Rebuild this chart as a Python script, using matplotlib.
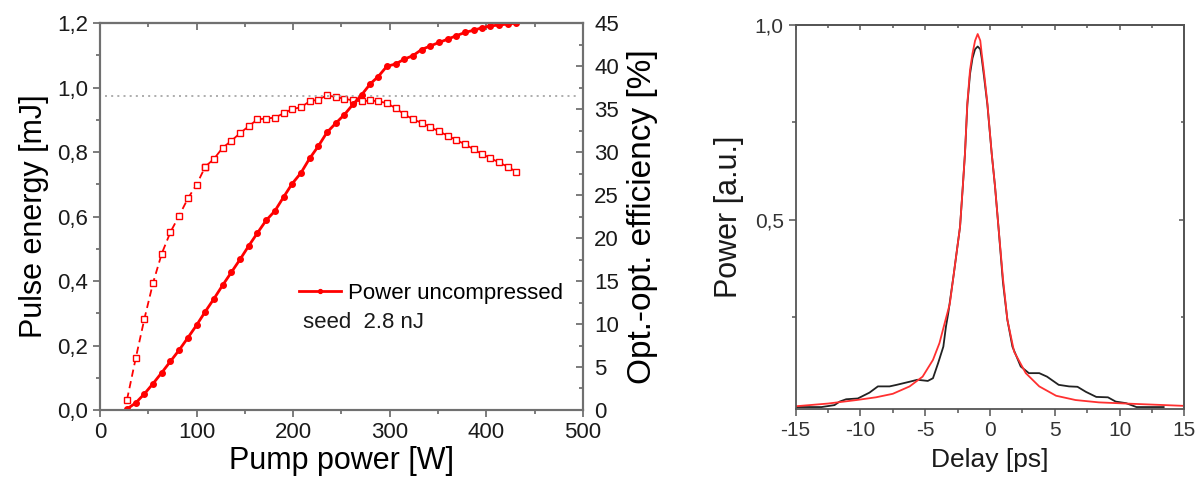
import numpy as np
import matplotlib.pyplot as plt
from matplotlib.ticker import MultipleLocator, FixedLocator

plt.rcParams['font.family'] = ['Liberation Sans', 'DejaVu Sans']
plt.rcParams['axes.unicode_minus'] = False

# left panel: amplifier output vs pump power
pump_w = [28, 37, 46, 55, 64, 73, 82, 91, 100, 109, 118, 127, 136, 145, 154,
          163, 172, 181, 190, 199, 208, 217, 226, 235, 244, 253, 262, 271, 280,
          288, 297, 306, 315, 324, 333, 342, 351, 360, 369, 378, 387, 395, 404,
          413, 422, 431]
energy_mj = [0.003, 0.022, 0.050, 0.082, 0.116, 0.151, 0.186, 0.224, 0.263,
             0.305, 0.345, 0.387, 0.427, 0.467, 0.509, 0.549, 0.588, 0.617,
             0.660, 0.702, 0.735, 0.780, 0.818, 0.861, 0.889, 0.916, 0.948,
             0.978, 1.012, 1.034, 1.066, 1.073, 1.088, 1.099, 1.118, 1.129,
             1.140, 1.150, 1.161, 1.171, 1.178, 1.185, 1.191, 1.194, 1.197, 1.200]
efficiency_pct = [1.2, 6.0, 10.6, 14.8, 18.2, 20.7, 22.6, 24.6, 26.2, 28.3,
                  29.2, 30.5, 31.3, 32.2, 33.0, 33.8, 33.9, 34.0, 34.5, 35.0,
                  35.2, 35.9, 36.1, 36.6, 36.4, 36.2, 36.0, 35.9, 36.0, 35.9,
                  35.7, 35.1, 34.4, 33.8, 33.4, 32.9, 32.4, 31.9, 31.4, 30.9,
                  30.3, 29.8, 29.3, 28.8, 28.3, 27.7]
max_eff = 36.5

# right panel: autocorrelation trace and fit
delay_meas = [-15, -13, -12, -11.6, -11.1, -10.2, -9.3, -8.65, -7.75, -7.2,
              -6.7, -6.2, -5.6, -4.8, -4.4, -4.0, -3.6, -3.4, -3.22, -2.8,
              -2.31, -2.1, -1.93, -1.75, -1.54, -1.35, -1.15, -0.95, -0.75,
              -0.64, -0.45, -0.2, 0.13, 0.39, 0.65, 1.0, 1.34, 1.73, 2.37, 3.0,
              3.8, 4.4, 5.3, 6.1, 6.75, 7.4, 8.2, 9.1, 9.7, 10.5, 11.3, 13.4]
power_meas = [0.020, 0.020, 0.025, 0.034, 0.040, 0.042, 0.057, 0.073, 0.073,
              0.077, 0.081, 0.085, 0.090, 0.087, 0.094, 0.133, 0.175, 0.226,
              0.261, 0.360, 0.483, 0.585, 0.671, 0.795, 0.875, 0.915, 0.938,
              0.945, 0.938, 0.915, 0.865, 0.795, 0.671, 0.585, 0.483, 0.340,
              0.244, 0.175, 0.124, 0.107, 0.107, 0.098, 0.077, 0.073, 0.072,
              0.059, 0.046, 0.045, 0.034, 0.030, 0.020, 0.020]
delay_fit = [-15, -12.5, -10.3, -8.8, -7.5, -6.2, -5.2, -4.4, -3.9, -3.5, -3.1,
             -2.8, -2.31, -2.1, -1.93, -1.75, -1.54, -1.35, -1.15, -0.95, -0.75,
             -0.64, -0.45, -0.2, 0.13, 0.39, 0.65, 1.0, 1.34, 1.86, 2.76, 3.8,
             5.1, 6.6, 8.4, 10.5, 15]
power_fit = [0.022, 0.029, 0.038, 0.045, 0.054, 0.073, 0.098, 0.141, 0.184,
             0.235, 0.285, 0.360, 0.483, 0.585, 0.671, 0.799, 0.885, 0.927,
             0.960, 0.977, 0.960, 0.927, 0.875, 0.799, 0.671, 0.585, 0.483,
             0.350, 0.244, 0.162, 0.107, 0.073, 0.049, 0.038, 0.032, 0.029, 0.023]

fig = plt.figure(figsize=(12, 4.91), dpi=100)
ax = fig.add_axes([0.0833, 0.165, 0.4025, 0.788])
ax2 = ax.twinx()

red = '#ff0000'
n_dash = 10
ax2.plot(pump_w[:n_dash], efficiency_pct[:n_dash], color=red, lw=1.3,
         ls=(0, (4, 2.5)), marker='s', ms=4.5, mfc='white', mec=red, mew=1)
ax2.plot(pump_w[n_dash - 1:], efficiency_pct[n_dash - 1:], color=red, lw=1.3,
         marker='s', ms=4.5, mfc='white', mec=red, mew=1)
ax2.axhline(max_eff, xmin=0.01, xmax=0.99, color='#a0a0a0', lw=1.2,
            ls=(0, (1.2, 2.5)))
ax.plot(pump_w, energy_mj, color=red, lw=2, marker='o', ms=4, mfc=red, mec=red,
        label='Power uncompressed')
ax.set_zorder(ax2.get_zorder() + 1)
ax.patch.set_visible(False)

ax.set_xlim(0, 500)
ax.set_ylim(0, 1.2)
ax2.set_ylim(0, 45)
ax.xaxis.set_major_locator(MultipleLocator(100))
ax.xaxis.set_minor_locator(MultipleLocator(50))
ax.yaxis.set_major_locator(MultipleLocator(0.2))
ax.yaxis.set_minor_locator(MultipleLocator(0.1))
ax.set_yticklabels([f'{v:.1f}'.replace('.', ',') for v in ax.get_yticks()])
ax2.yaxis.set_major_locator(MultipleLocator(5))
ax2.yaxis.set_minor_locator(MultipleLocator(2.5))

ax.tick_params(which='both', direction='out', labelsize=16, colors='#666666',
               labelcolor='#1a1a1a', width=1.2)
ax.tick_params(which='major', length=5)
ax.tick_params(which='minor', length=3)
ax2.tick_params(which='both', direction='in', labelsize=16, colors='#666666',
                labelcolor='#1a1a1a', width=1.2, pad=8)
ax2.tick_params(which='major', length=5)
ax2.tick_params(which='minor', length=3)
top = ax.secondary_xaxis('top')
top.xaxis.set_major_locator(MultipleLocator(100))
top.xaxis.set_minor_locator(MultipleLocator(50))
top.tick_params(which='both', direction='in', labeltop=False, colors='#666666', width=1.2)
top.tick_params(which='major', length=5)
top.tick_params(which='minor', length=3)
for a in (ax, ax2, top):
    for s in a.spines.values():
        s.set_color('#707070')
        s.set_linewidth(1.5)

ax.set_xlabel('Pump power [W]', fontsize=22, labelpad=2)
ax.set_ylabel('Pulse energy [mJ]', fontsize=22, labelpad=6)
ax2.set_ylabel('Opt.-opt. efficiency [%]', fontsize=24, labelpad=6)

ax.legend(loc='center left', bbox_to_anchor=(0.412, 0.302), frameon=False,
          fontsize=16, handlelength=1.9, handletextpad=0.3, borderpad=0,
          borderaxespad=0, markerscale=0.7)
ax.text(0.42, 0.226, 'seed  2.8 nJ', transform=ax.transAxes, fontsize=16,
        va='center', ha='left', color='#1a1a1a')

# right panel
bx = fig.add_axes([0.663, 0.167, 0.324, 0.782])
bx.plot(delay_meas, power_meas, color='#222222', lw=1.3)
bx.plot(delay_fit, power_fit, color='#ff3030', lw=1.3)
bx.set_xlim(-15, 15)
bx.set_ylim(0.015, 1.0)
bx.xaxis.set_major_locator(MultipleLocator(5))
bx.xaxis.set_minor_locator(MultipleLocator(2.5))
bx.yaxis.set_major_locator(FixedLocator([0.5, 1.0]))
bx.yaxis.set_minor_locator(FixedLocator([0.25, 0.75]))
bx.set_yticklabels(['0,5', '1,0'])
bx.tick_params(which='both', direction='out', labelsize=15, colors='#555555',
               labelcolor='#333333', width=1.1)
bx.tick_params(which='major', length=5)
bx.tick_params(which='minor', length=3)
btop = bx.secondary_xaxis('top')
btop.xaxis.set_major_locator(MultipleLocator(5))
btop.xaxis.set_minor_locator(MultipleLocator(2.5))
btop.tick_params(which='both', direction='in', labeltop=False, colors='#555555', width=1.1)
bright = bx.secondary_yaxis('right')
bright.yaxis.set_major_locator(FixedLocator([0.5, 1.0]))
bright.yaxis.set_minor_locator(FixedLocator([0.25, 0.75]))
bright.tick_params(which='both', direction='in', labelright=False, colors='#555555', width=1.1)
for a in (bx, btop, bright):
    for s in a.spines.values():
        s.set_color('#555555')
        s.set_linewidth(1.3)
bx.set_xlabel('Delay [ps]', fontsize=19, labelpad=6, color='#1a1a1a')
bx.set_ylabel('Power [a.u.]', fontsize=22, labelpad=8, color='#1a1a1a')

fig.savefig('out.png', dpi=100)
